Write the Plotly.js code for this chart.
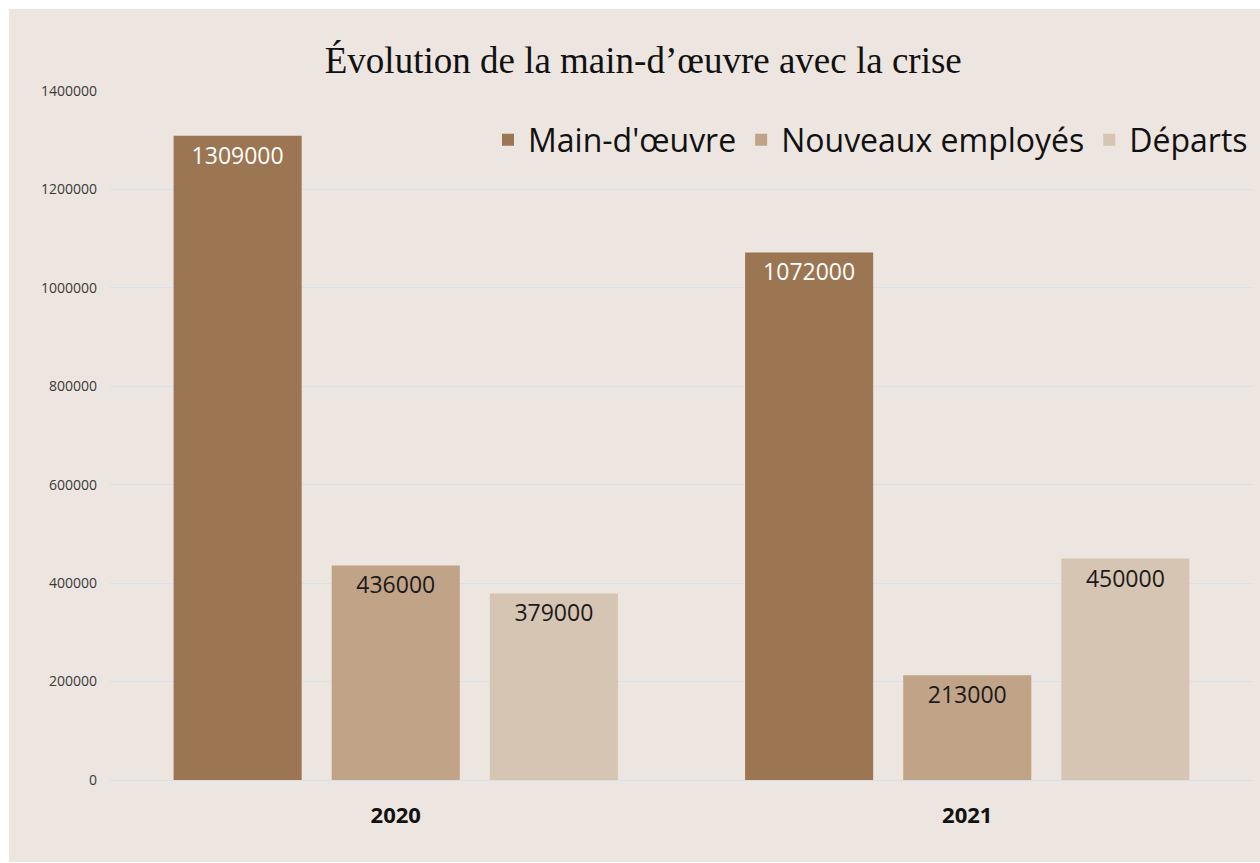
<!DOCTYPE html>
<html>
<head>
<meta charset="utf-8">
<script src="https://cdn.plot.ly/plotly-3.0.1.min.js"></script>
<style>
html,body{margin:0;padding:0;background:#ffffff;width:1260px;height:863px;overflow:hidden;}
#chart{position:absolute;left:9px;top:9px;width:1251px;height:853px;}
</style>
</head>
<body>
<div id="chart"></div>
<script>
const years = ["2020", "2021"];
const seriesNames = ["Main-d'œuvre", "Nouveaux employés", "Départs"];
const mainOeuvre = [1309000, 1072000];
const nouveaux = [436000, 213000];
const departs = [379000, 450000];
const yTicks = [0, 200000, 400000, 600000, 800000, 1000000, 1200000, 1400000];

const colors = ["#9C7652", "#C1A487", "#D6C5B2"];
const textColors = ["#ffffff", "#1a1a1a", "#1a1a1a"];
const values = [mainOeuvre, nouveaux, departs];

const traces = values.map((v, i) => ({
  type: "bar",
  name: seriesNames[i],
  x: years,
  y: v,
  text: v.map(String),
  textposition: "inside",
  insidetextanchor: "end",
  textangle: 0,
  constraintext: "none",
  textfont: {family: "Open Sans, sans-serif", size: 23, color: textColors[i]},
  marker: {color: colors[i], line: {width: 0}},
  hoverinfo: "none"
}));

const layout = {
  width: 1251,
  height: 853,
  paper_bgcolor: "#EDE5DF",
  plot_bgcolor: "#EDE5DF",
  margin: {l: 101, r: 7, t: 82, b: 82, pad: 0},
  barmode: "group",
  bargap: 0.17,
  bargroupgap: 0.19,
  title: {
    text: "Évolution de la main-d’œuvre avec la crise",
    font: {family: "Liberation Serif, Times New Roman, serif", size: 37, color: "#111111"},
    x: 0.507, xanchor: "center", xref: "container",
    y: 0.94, yanchor: "middle", yref: "container"
  },
  showlegend: true,
  legend: {
    orientation: "h",
    x: 1, xanchor: "right",
    y: 0.929, yanchor: "middle",
    bgcolor: "rgba(0,0,0,0)",
    font: {family: "Open Sans, sans-serif", size: 32, color: "#111111"},
    itemclick: false
  },
  xaxis: {
    type: "category",
    tickfont: {family: "Open Sans, sans-serif", size: 22, color: "#111111", weight: "bold"},
    ticks: "",
    showgrid: false,
    zeroline: false,
    showline: false,
    ticklabelstandoff: 20
  },
  yaxis: {
    range: [0, 1400000],
    tickvals: yTicks,
    ticktext: yTicks.map(String),
    tickfont: {family: "Open Sans, sans-serif", size: 14, color: "#3a3a3a"},
    ticks: "",
    showgrid: true,
    gridcolor: "#D8E0EA",
    gridwidth: 1,
    zeroline: true,
    zerolinecolor: "#D8E0EA",
    zerolinewidth: 1,
    showline: false,
    ticklabelstandoff: 12
  }
};

Plotly.newPlot("chart", traces, layout, {displayModeBar: false, staticPlot: true});
</script>
</body>
</html>
